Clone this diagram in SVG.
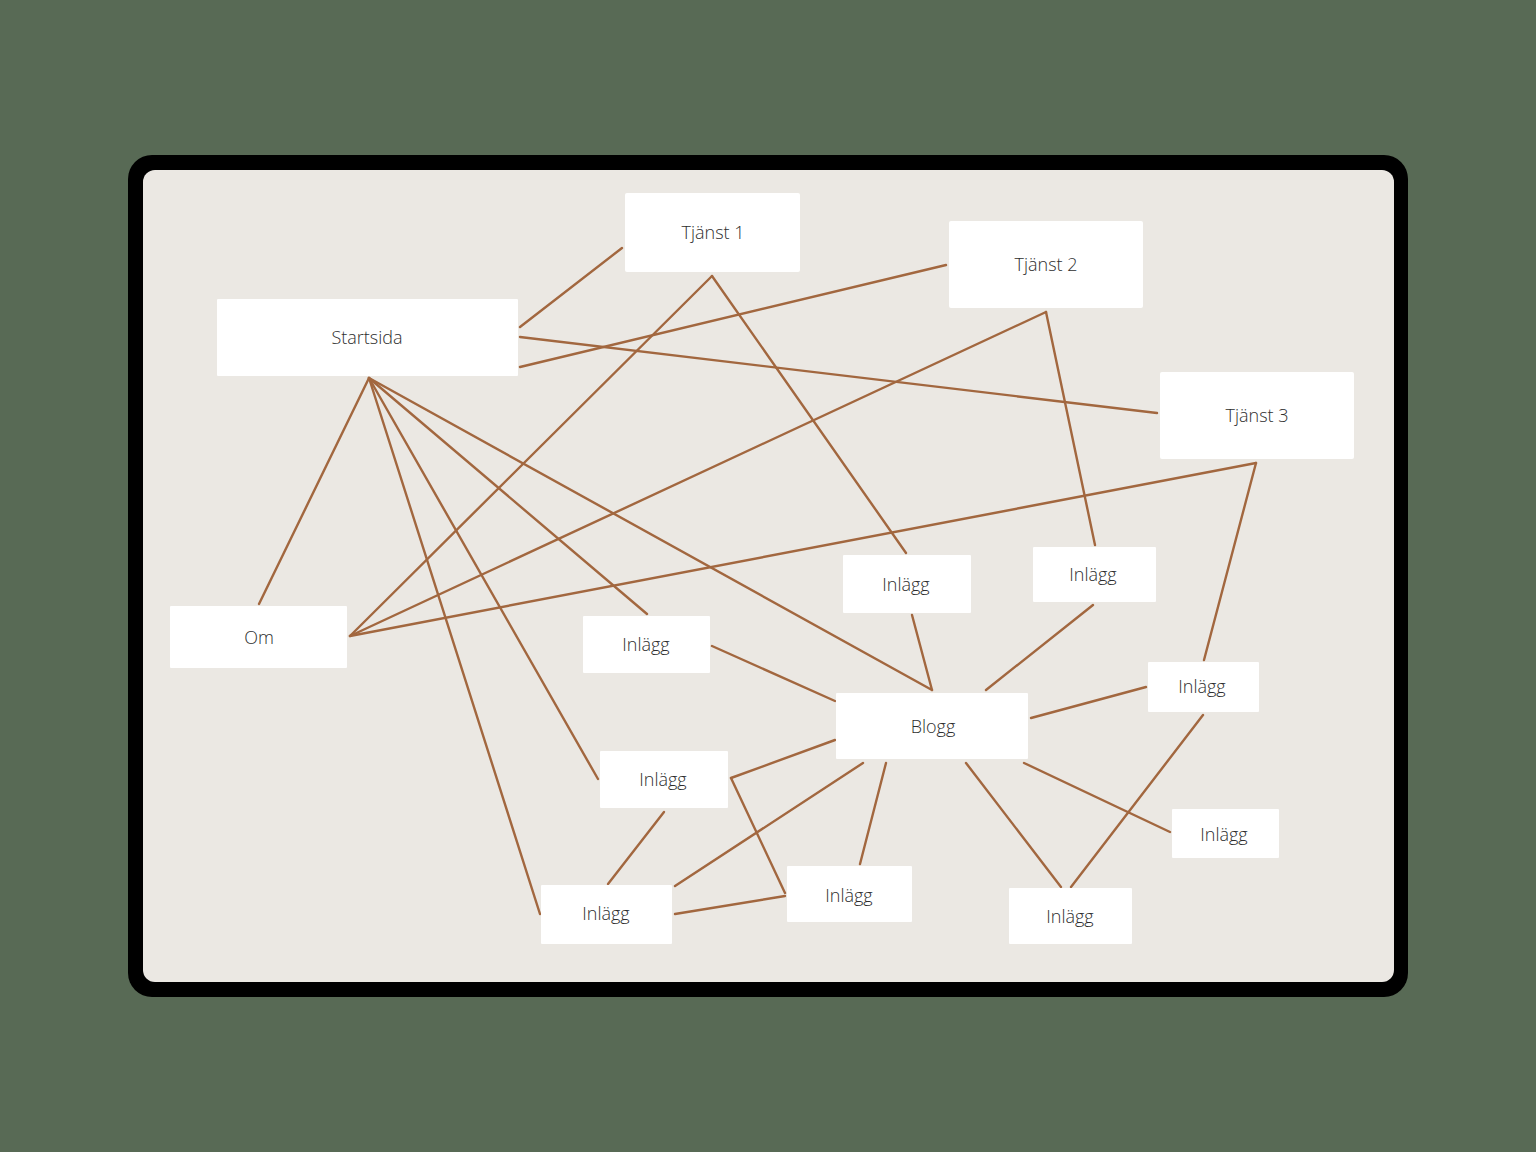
<svg xmlns="http://www.w3.org/2000/svg" width="1536" height="1152" viewBox="0 0 1536 1152">
<style>
.n rect{fill:#ffffff}
.n text{font-family:"Open Sans","Liberation Sans",sans-serif;font-size:18px;font-weight:300;fill:#2e2e2e;text-anchor:middle;dominant-baseline:central}
#connectors line{stroke:#a2673f;stroke-width:2.4;stroke-linecap:round}
</style>
<rect x="0" y="0" width="1536" height="1152" fill="#586a55"/>
<rect x="128" y="155" width="1280" height="842" rx="24" fill="#000000"/>
<rect x="143" y="170" width="1251" height="812" rx="12" fill="#ebe8e3"/>
<g id="connectors">
<line x1="520" y1="327" x2="622" y2="248"/>
<line x1="520" y1="337" x2="1157" y2="413"/>
<line x1="520" y1="367" x2="946" y2="265"/>
<line x1="369" y1="378" x2="259" y2="604"/>
<line x1="369" y1="378" x2="540" y2="914"/>
<line x1="369" y1="378" x2="598" y2="779"/>
<line x1="369" y1="378" x2="647" y2="614"/>
<line x1="369" y1="378" x2="932" y2="690"/>
<line x1="712" y1="276" x2="350" y2="636"/>
<line x1="712" y1="276" x2="906" y2="553"/>
<line x1="1046" y1="312" x2="350" y2="636"/>
<line x1="1046" y1="312" x2="1095" y2="545"/>
<line x1="1256" y1="463" x2="350" y2="636"/>
<line x1="1256" y1="463" x2="1204" y2="660"/>
<line x1="912" y1="615" x2="932" y2="690"/>
<line x1="1093" y1="605" x2="986" y2="690"/>
<line x1="712" y1="646" x2="835" y2="701"/>
<line x1="1031" y1="718" x2="1146" y2="687"/>
<line x1="835" y1="740" x2="731" y2="778"/>
<line x1="731" y1="778" x2="785" y2="893"/>
<line x1="664" y1="812" x2="608" y2="884"/>
<line x1="863" y1="763" x2="675" y2="886"/>
<line x1="675" y1="914" x2="785" y2="896"/>
<line x1="886" y1="763" x2="860" y2="864"/>
<line x1="966" y1="763" x2="1061" y2="887"/>
<line x1="1203" y1="715" x2="1071" y2="887"/>
<line x1="1024" y1="763" x2="1170" y2="832"/>
</g>
<g id="tjanst1" class="n"><rect x="625" y="193" width="175" height="79" rx="2"/><text x="713" y="232">Tjänst 1</text></g>
<g id="tjanst2" class="n"><rect x="949" y="221" width="194" height="87" rx="2"/><text x="1046" y="264">Tjänst 2</text></g>
<g id="startsida" class="n"><rect x="217" y="299" width="301" height="77" rx="1"/><text x="367" y="337">Startsida</text></g>
<g id="tjanst3" class="n"><rect x="1160" y="372" width="194" height="87" rx="2"/><text x="1257" y="415">Tjänst 3</text></g>
<g id="om" class="n"><rect x="170" y="606" width="177" height="62" rx="1"/><text x="259" y="637">Om</text></g>
<g id="inlagg-a" class="n"><rect x="843" y="555" width="128" height="58" rx="1"/><text x="906" y="584">Inlägg</text></g>
<g id="inlagg-b" class="n"><rect x="1033" y="547" width="123" height="55" rx="1"/><text x="1093" y="574">Inlägg</text></g>
<g id="inlagg-c" class="n"><rect x="583" y="616" width="127" height="57" rx="1"/><text x="646" y="644">Inlägg</text></g>
<g id="inlagg-d" class="n"><rect x="1148" y="662" width="111" height="50" rx="1"/><text x="1202" y="686">Inlägg</text></g>
<g id="blogg" class="n"><rect x="836" y="693" width="192" height="66" rx="1"/><text x="933" y="726">Blogg</text></g>
<g id="inlagg-e" class="n"><rect x="600" y="751" width="128" height="57" rx="1"/><text x="663" y="779">Inlägg</text></g>
<g id="inlagg-f" class="n"><rect x="1172" y="809" width="107" height="49" rx="1"/><text x="1224" y="834">Inlägg</text></g>
<g id="inlagg-g" class="n"><rect x="787" y="866" width="125" height="56" rx="1"/><text x="849" y="895">Inlägg</text></g>
<g id="inlagg-h" class="n"><rect x="541" y="885" width="131" height="59" rx="1"/><text x="606" y="913">Inlägg</text></g>
<g id="inlagg-i" class="n"><rect x="1009" y="888" width="123" height="56" rx="1"/><text x="1070" y="916">Inlägg</text></g>
</svg>
